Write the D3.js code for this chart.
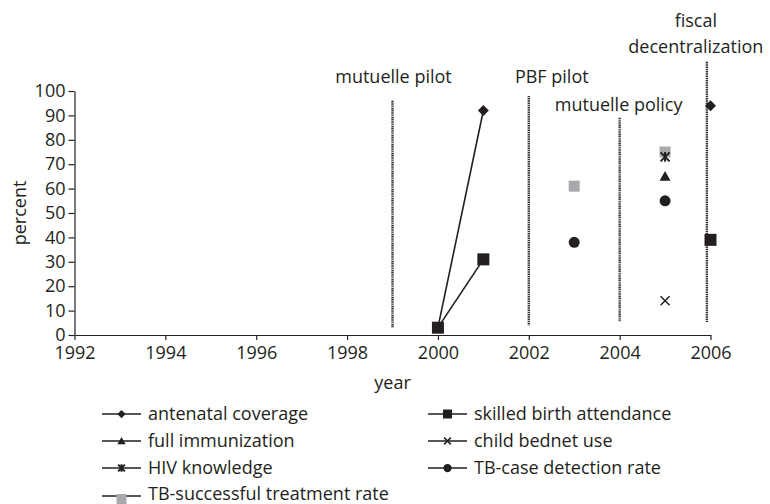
<!DOCTYPE html>
<html>
<head>
<meta charset="utf-8">
<script src="https://cdn.jsdelivr.net/npm/d3@7"></script>
<style>
  body { margin: 0; background: #fff; }
  svg text { font-family: "Open Sans", sans-serif; font-size: 18px; fill: #231f20; }
  .axis path, .axis line { stroke: #231f20; stroke-width: 1.2; }
</style>
</head>
<body>
<svg id="chart" width="770" height="504"></svg>
<script>
const width = 770;
const height = 504;

// data
const years = [2000, 2001, 2002, 2003, 2004, 2005, 2006];
const antenatal = [3, 92, null, null, null, null, 94];
const skilledBirth = [3, 31, null, null, null, null, 39];
const immunization = [null, null, null, null, null, 65, null];
const bednet = [null, null, null, null, null, 14, null];
const hivKnowledge = [null, null, null, null, null, 73, null];
const tbDetection = [null, null, null, 38, null, 55, null];
const tbTreatment = [null, null, null, 61, null, 75, null];

const seriesNames = [
  "antenatal coverage",
  "skilled birth attendance",
  "full immunization",
  "child bednet use",
  "HIV knowledge",
  "TB-case detection rate",
  "TB-successful treatment rate",
];

// policy events (vertical markers)
const eventYears = [1999, 2002, 2004, 2005.92];
const eventLabels = [
  ["mutuelle pilot"],
  ["PBF pilot"],
  ["mutuelle policy"],
  ["fiscal", "decentralization"],
];
const eventTop = [96, 98, 89, 112];
const eventBottom = [3, 4, 5.5, 5];

const xTicks = [1992, 1994, 1996, 1998, 2000, 2002, 2004, 2006];
const yTicks = [0, 10, 20, 30, 40, 50, 60, 70, 80, 90, 100];

const black = "#231f20";
const grey = "#a7a9ac";

const svg = d3.select("#chart");

const x = d3.scaleLinear().domain([1992, 2006]).range([74.5, 710.5]);
const y = d3.scaleLinear().domain([0, 100]).range([335, 91]);

// axes
svg
  .append("g")
  .attr("class", "axis")
  .attr("transform", `translate(0, ${y(0)})`)
  .call(d3.axisBottom(x).tickValues(xTicks).tickFormat(d3.format("d")).tickSize(5).tickSizeOuter(0).tickPadding(6))
  .call((g) => g.selectAll("text").style("font-size", "18px").attr("font-family", null));

svg
  .append("g")
  .attr("class", "axis")
  .attr("transform", `translate(${x(1992)}, 0)`)
  .call(d3.axisLeft(y).tickValues(yTicks).tickSize(6).tickSizeOuter(0).tickPadding(3))
  .call((g) => g.selectAll("text").style("font-size", "18px").attr("font-family", null));

svg.selectAll(".axis .domain").attr("stroke", black);
svg.selectAll(".axis .tick line").attr("stroke", black);
svg.selectAll(".axis text").attr("fill", black);

// axis titles
svg
  .append("text")
  .attr("x", (x.range()[0] + x.range()[1]) / 2)
  .attr("y", 383)
  .attr("dy", "0.35em")
  .attr("text-anchor", "middle")
  .text("year");

svg
  .append("text")
  .attr("transform", `translate(20, ${y(50)}) rotate(-90)`)
  .attr("dy", "0.35em")
  .attr("text-anchor", "middle")
  .text("percent");

// event lines
const labelDx = [1, 23, -1, -11];
const labelY = [77, 77, 105, 21];

eventYears.forEach((yr, i) => {
  svg
    .append("line")
    .attr("x1", x(yr))
    .attr("x2", x(yr))
    .attr("y1", y(eventTop[i]))
    .attr("y2", y(eventBottom[i]))
    .attr("stroke", "#333")
    .attr("stroke-width", 2.4)
    .attr("stroke-dasharray", "1.2 0.6");

  svg
    .append("text")
    .attr("text-anchor", "middle")
    .attr("x", x(yr) + labelDx[i])
    .attr("y", labelY[i])
    .selectAll("tspan")
    .data(eventLabels[i])
    .join("tspan")
    .attr("x", x(yr) + labelDx[i])
    .attr("dy", (d, j) => (j === 0 ? "0.35em" : "1.4em"))
    .text((d) => d);
});

// markers
function marker(g, type, size) {
  const h = size / 2;
  if (type === "diamond") {
    g.append("path").attr("d", `M0,${-h}L${h},0L0,${h}L${-h},0Z`).attr("fill", black);
  } else if (type === "square") {
    g.append("rect").attr("x", -h).attr("y", -h).attr("width", size).attr("height", size).attr("fill", black);
  } else if (type === "greysquare") {
    g.append("rect").attr("x", -h).attr("y", -h).attr("width", size).attr("height", size).attr("fill", grey);
  } else if (type === "triangle") {
    g.append("path").attr("d", `M0,${-h}L${h},${h * 0.8}L${-h},${h * 0.8}Z`).attr("fill", black);
  } else if (type === "circle") {
    g.append("circle").attr("r", h).attr("fill", black);
  } else if (type === "cross") {
    g.append("path")
      .attr("d", `M${-h},${-h}L${h},${h}M${-h},${h}L${h},${-h}`)
      .attr("stroke", black)
      .attr("stroke-width", 1.5);
  } else if (type === "star") {
    g.append("path")
      .attr("d", `M${-h},${-h}L${h},${h}M${-h},${h}L${h},${-h}M0,${-h * 1.1}L0,${h * 1.1}`)
      .attr("stroke", black)
      .attr("stroke-width", 2);
  }
}

const series = [
  { name: seriesNames[0], values: antenatal, type: "diamond", size: 11 },
  { name: seriesNames[1], values: skilledBirth, type: "square", size: 12 },
  { name: seriesNames[2], values: immunization, type: "triangle", size: 11 },
  { name: seriesNames[3], values: bednet, type: "cross", size: 9 },
  { name: seriesNames[4], values: hivKnowledge, type: "star", size: 9 },
  { name: seriesNames[5], values: tbDetection, type: "circle", size: 11 },
  { name: seriesNames[6], values: tbTreatment, type: "greysquare", size: 11 },
];

const line = d3
  .line()
  .defined((d) => d.v != null)
  .x((d) => x(d.year))
  .y((d) => y(d.v));

// draw in order so the gray squares sit under the other marks
const drawOrder = [6, 0, 1, 2, 3, 4, 5];
drawOrder.forEach((k) => {
  const s = series[k];
  const pts = years.map((yr, i) => ({ year: yr, v: s.values[i] }));
  svg
    .append("path")
    .datum(pts)
    .attr("d", line)
    .attr("fill", "none")
    .attr("stroke", black)
    .attr("stroke-width", 1.6);
  pts
    .filter((d) => d.v != null)
    .forEach((d) => {
      const g = svg.append("g").attr("transform", `translate(${x(d.year)}, ${y(d.v)})`);
      marker(g, s.type, s.size);
    });
});

// legend
const legendCols = [102, 428];
const legendRows = [414, 441, 468, 494];
series.forEach((s, i) => {
  const col = i % 2;
  const row = Math.floor(i / 2);
  const lx = legendCols[col];
  const ly = legendRows[row];
  const g = svg.append("g").attr("transform", `translate(${lx}, ${ly})`);
  g.append("line")
    .attr("x1", 0)
    .attr("x2", 39)
    .attr("y1", s.type === "greysquare" ? 2 : 0)
    .attr("y2", s.type === "greysquare" ? 2 : 0)
    .attr("stroke", black)
    .attr("stroke-width", 1.6);
  const m = g.append("g").attr("transform", `translate(19.5, ${s.type === "greysquare" ? 5 : 0})`);
  marker(m, s.type, s.type === "greysquare" ? 10 : s.size * 0.75);
  g.append("text")
    .attr("x", 46)
    .attr("y", 0)
    .attr("dy", "0.35em")
    .text(s.name);
});
</script>
</body>
</html>
